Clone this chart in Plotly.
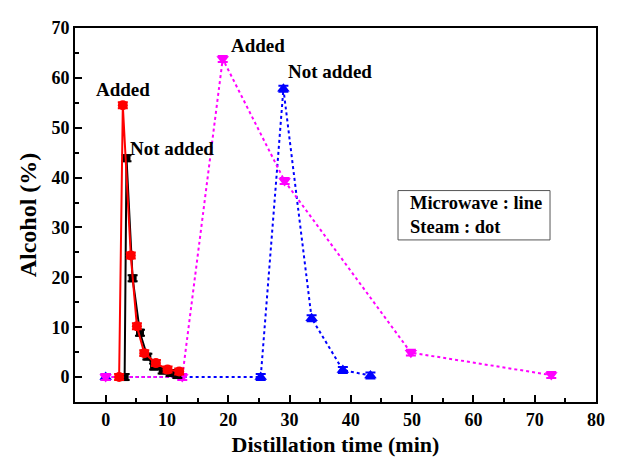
import plotly.graph_objects as go

# Microwave, added (red, solid)
mw_added_x = [2.2, 2.8, 4.1, 5.1, 6.3, 8.2, 10.1, 12.0]
mw_added_y = [0.0, 54.5, 24.4, 10.2, 4.8, 2.8, 1.5, 1.1]
# Microwave, not added (black, solid)
mw_not_x = [3.1, 3.4, 4.4, 5.6, 6.8, 7.9, 9.3, 10.6, 11.7]
mw_not_y = [0.0, 43.9, 19.8, 8.9, 4.1, 2.1, 1.3, 0.8, 0.4]
# Steam, added (magenta, dotted)
st_added_x = [0.0, 12.5, 19.1, 29.2, 49.8, 72.7]
st_added_y = [0.0, 0.0, 63.8, 39.3, 4.9, 0.4]
# Steam, not added (blue, dotted)
st_not_x = [0.0, 25.3, 29.0, 33.6, 38.7, 43.2]
st_not_y = [0.0, 0.0, 57.8, 11.8, 1.4, 0.3]

font_fam = "Liberation Serif"

fig = go.Figure()

def add(x, y, color, symbol, dash, size):
    fig.add_trace(go.Scatter(
        x=x, y=y, mode="lines+markers",
        line=dict(color=color, width=2, dash=dash),
        marker=dict(color=color, symbol=symbol, size=size, line=dict(width=0)),
        error_y=dict(type="constant", value=0.6, color=color, thickness=2, width=5),
        showlegend=False,
    ))

add(st_not_x, st_not_y, "#0000FF", "triangle-up", "dot", 11)
add(st_added_x, st_added_y, "#FF00FF", "triangle-down", "dot", 11)
add(mw_not_x, mw_not_y, "#000000", "square", "solid", 8)
add(mw_added_x, mw_added_y, "#FF0000", "circle", "solid", 10)

ann_font = dict(family=font_fam, size=19, color="black", weight="bold")
labels = [
    (2.8, 57.6, "Added"),
    (10.9, 45.9, "Not added"),
    (24.9, 66.4, "Added"),
    (36.6, 61.2, "Not added"),
]
for x, y, t in labels:
    fig.add_annotation(x=x, y=y, text=t, showarrow=False, font=ann_font,
                       xanchor="center", yanchor="middle")

# note box
fig.add_shape(type="rect", x0=47.7, x1=72.5, y0=27.5, y1=37.4,
              line=dict(color="#555555", width=1), fillcolor="white", layer="below")
fig.add_annotation(x=49.3, y=32.5, text="Microwave : line<br>Steam : dot",
                   showarrow=False, align="left", xanchor="left", yanchor="middle",
                   font=dict(family=font_fam, size=18.5, color="black", weight="bold"))

tickfont = dict(family=font_fam, size=18, color="black", weight="bold")

fig.update_xaxes(range=[-5, 80], dtick=10, tick0=0, ticks="inside", ticklen=7, tickwidth=2,
                 tickcolor="black", showline=True, linecolor="black", linewidth=2, mirror=True,
                 showgrid=False, zeroline=False, tickfont=tickfont,
                 minor=dict(dtick=5, tick0=0, ticks="inside", ticklen=4, tickwidth=2, tickcolor="black"),
                 title=dict(text="Distillation time (min)",
                            font=dict(family=font_fam, size=22, color="black", weight="bold"),
                            standoff=8))
fig.update_yaxes(range=[-5, 70], dtick=10, tick0=0, ticks="inside", ticklen=7, tickwidth=2,
                 tickcolor="black", showline=True, linecolor="black", linewidth=2, mirror=True,
                 showgrid=False, zeroline=False, tickfont=tickfont,
                 minor=dict(dtick=5, tick0=0, ticks="inside", ticklen=4, tickwidth=2, tickcolor="black"),
                 title=dict(text="Alcohol (%)",
                            font=dict(family=font_fam, size=24, color="black", weight="bold"),
                            standoff=8))

fig.update_layout(width=617, height=465, margin=dict(l=67, r=29, t=10, b=71),
                  plot_bgcolor="white", paper_bgcolor="white")

fig.write_html("out.html")
